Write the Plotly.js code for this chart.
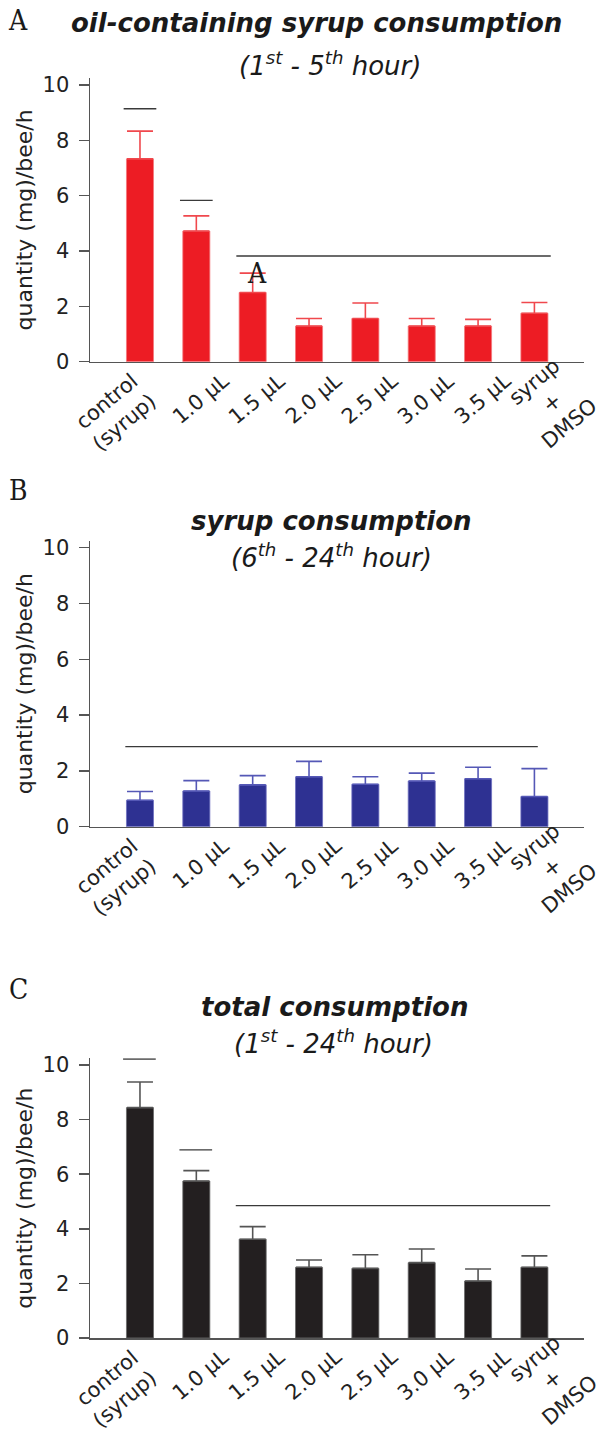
<!DOCTYPE html>
<html>
<head>
<meta charset="utf-8">
<script src="https://cdn.plot.ly/plotly-3.0.1.min.js"></script>
<style>
  html, body { margin: 0; padding: 0; background: #ffffff; }
  #chart { width: 602px; height: 1432px; }
</style>
</head>
<body>
<div id="chart"></div>
<script>
// ---------- data ----------
const categories = ['control<br>(syrup)', '1.0 µL', '1.5 µL', '2.0 µL', '2.5 µL', '3.0 µL', '3.5 µL', 'syrup<br>+<br>DMSO'];

// Panel A: oil-containing syrup consumption (1st - 5th hour)
const oilSyrupMean = [7.33, 4.72, 2.50, 1.29, 1.56, 1.29, 1.29, 1.75];
const oilSyrupErr  = [1.00, 0.55, 0.70, 0.27, 0.56, 0.27, 0.24, 0.39];
const oilSigFrom   = [0, 1, 2];
const oilSigTo     = [0, 1, 7];
const oilSigLevel  = [9.14, 5.83, 3.82];

// Panel B: syrup consumption (6th - 24th hour)
const syrupMean = [0.95, 1.28, 1.50, 1.79, 1.52, 1.64, 1.72, 1.08];
const syrupErr  = [0.31, 0.37, 0.33, 0.55, 0.27, 0.28, 0.41, 1.00];
const syrupSigFrom  = [0];
const syrupSigTo    = [7];
const syrupSigLevel = [2.87];

// Panel C: total consumption (1st - 24th hour)
const totalMean = [8.44, 5.75, 3.62, 2.59, 2.55, 2.76, 2.09, 2.59];
const totalErr  = [0.94, 0.38, 0.46, 0.27, 0.50, 0.50, 0.44, 0.42];
const totalSigFrom  = [0, 1, 2];
const totalSigTo    = [0, 1, 7];
const totalSigLevel = [10.22, 6.89, 4.85];

const yTicks = [0, 2, 4, 6, 8, 10];

// ---------- drawing ----------
const W = 602, H = 1432;
const FONT = 'DejaVu Sans, Verdana, sans-serif';
const LETTER = 'DejaVu Serif Condensed, DejaVu Serif, serif';
function px2paperY(py) { return (H - py) / H; }

function barTrace(vals, errs, fill, edge, errColor, ax) {
  return {
    type: 'bar', x: categories, y: vals,
    xaxis: 'x' + ax, yaxis: 'y' + ax,
    marker: { color: fill, line: { color: edge, width: 0.8 } },
    error_y: { type: 'data', symmetric: false, array: errs,
               arrayminus: errs.map(() => 0), color: errColor, thickness: 1.6, width: 13 },
    hoverinfo: 'skip'
  };
}

const traces = [
  barTrace(oilSyrupMean, oilSyrupErr, '#ed1c24', '#f4787c', '#f0484d', ''),
  barTrace(syrupMean, syrupErr, '#2e3192', '#6d70c0', '#5558b6', '2'),
  barTrace(totalMean, totalErr, '#231f20', '#6a6a6a', '#555555', '3')
];

// plot areas in pixels: top of axis line, zero line
const panels = [
  { top: 78,     zero: 361.7, ax: '' },
  { top: 540.7,  zero: 826.7, ax: '2' },
  { top: 1058.2, zero: 1338,  ax: '3' }
];

const xDomain = [90 / W, 584 / W];
const xRange = [-0.887, 7.88];

function xAxis(anchor) {
  return {
    domain: xDomain, range: xRange, type: 'category', anchor: anchor,
    showline: true, linecolor: '#555555', linewidth: 1.5,
    ticks: '', showticklabels: false, showgrid: false, zeroline: false, fixedrange: true
  };
}
function yAxis(anchor, p) {
  return {
    domain: [px2paperY(p.zero), px2paperY(p.top)], range: [0, 10.25], anchor: anchor,
    tickvals: yTicks, ticktext: yTicks.map(String),
    ticks: 'outside', ticklen: 10, tickwidth: 1.5, tickcolor: '#555555',
    ticklabelstandoff: 5,
    showline: true, linecolor: '#555555', linewidth: 1.5,
    showgrid: false, zeroline: false,
    tickfont: { family: FONT, size: 21, color: '#222222' },
    title: { text: 'quantity (mg)/bee/h', font: { family: FONT, size: 22, color: '#222222' }, standoff: 4 },
    fixedrange: true
  };
}

const shapes = [];
function sigLines(from, to, level, ax, padL, padR) {
  for (let i = 0; i < level.length; i++) {
    shapes.push({ type: 'line', xref: 'x' + ax, yref: 'y' + ax,
      x0: from[i] - padL, x1: to[i] + padR, y0: level[i], y1: level[i],
      line: { color: '#3a3a3a', width: 1.4 } });
  }
}
sigLines(oilSigFrom, oilSigTo, oilSigLevel, '', 0.29, 0.29);
sigLines(syrupSigFrom, syrupSigTo, syrupSigLevel, '2', 0.26, 0.06);
sigLines(totalSigFrom, totalSigTo, totalSigLevel, '3', 0.30, 0.28);

const annotations = [];
function ann(text, xpx, ypx, size, family, extra) {
  annotations.push(Object.assign({
    text: text, xref: 'paper', yref: 'paper', x: xpx / W, y: px2paperY(ypx),
    xanchor: 'center', yanchor: 'middle', showarrow: false,
    font: { family: family, size: size, color: '#1a1a1a' }
  }, extra || {}));
}

// rotated category labels (centre of each label block, offset from its tick)
function catLabels(p) {
  categories.forEach((c, i) => {
    let dx = 4, dy = 37;
    if (i === 0) { dx = -24; dy = 50; }
    if (i === categories.length - 1) { dx = 18; dy = 41; }
    annotations.push({
      text: c, xref: 'x' + p.ax, yref: 'paper', x: c, y: px2paperY(p.zero + dy),
      xshift: dx, xanchor: 'center', yanchor: 'middle', textangle: -40, showarrow: false,
      font: { family: FONT, size: 21, color: '#222222' }
    });
  });
}
panels.forEach(catLabels);

ann('A', 18, 20, 28, LETTER);
ann('B', 18, 490, 28, LETTER);
ann('C', 18, 990, 28, LETTER);
ann('<b><i>oil-containing syrup consumption</i></b>', 316, 23, 26, FONT);
ann('<i>(1<sup>st</sup> - 5<sup>th</sup> hour)</i>', 330, 64, 26, FONT);
ann('<b><i>syrup consumption</i></b>', 331, 521, 26, FONT);
ann('<i>(6<sup>th</sup> - 24<sup>th</sup> hour)</i>', 332, 556, 26, FONT);
ann('<b><i>total consumption</i></b>', 334, 1007, 26, FONT);
ann('<i>(1<sup>st</sup> - 24<sup>th</sup> hour)</i>', 333, 1042, 26, FONT);
ann('A', 257, 273, 28, LETTER);

const layout = {
  width: W, height: H, margin: { l: 0, r: 0, t: 0, b: 0 },
  paper_bgcolor: '#ffffff', plot_bgcolor: '#ffffff',
  showlegend: false, bargap: 0.52,
  xaxis: xAxis('y'), yaxis: yAxis('x', panels[0]),
  xaxis2: xAxis('y2'), yaxis2: yAxis('x2', panels[1]),
  xaxis3: xAxis('y3'), yaxis3: yAxis('x3', panels[2]),
  shapes: shapes, annotations: annotations
};

Plotly.newPlot('chart', traces, layout, { staticPlot: true, displayModeBar: false });
</script>
</body>
</html>
